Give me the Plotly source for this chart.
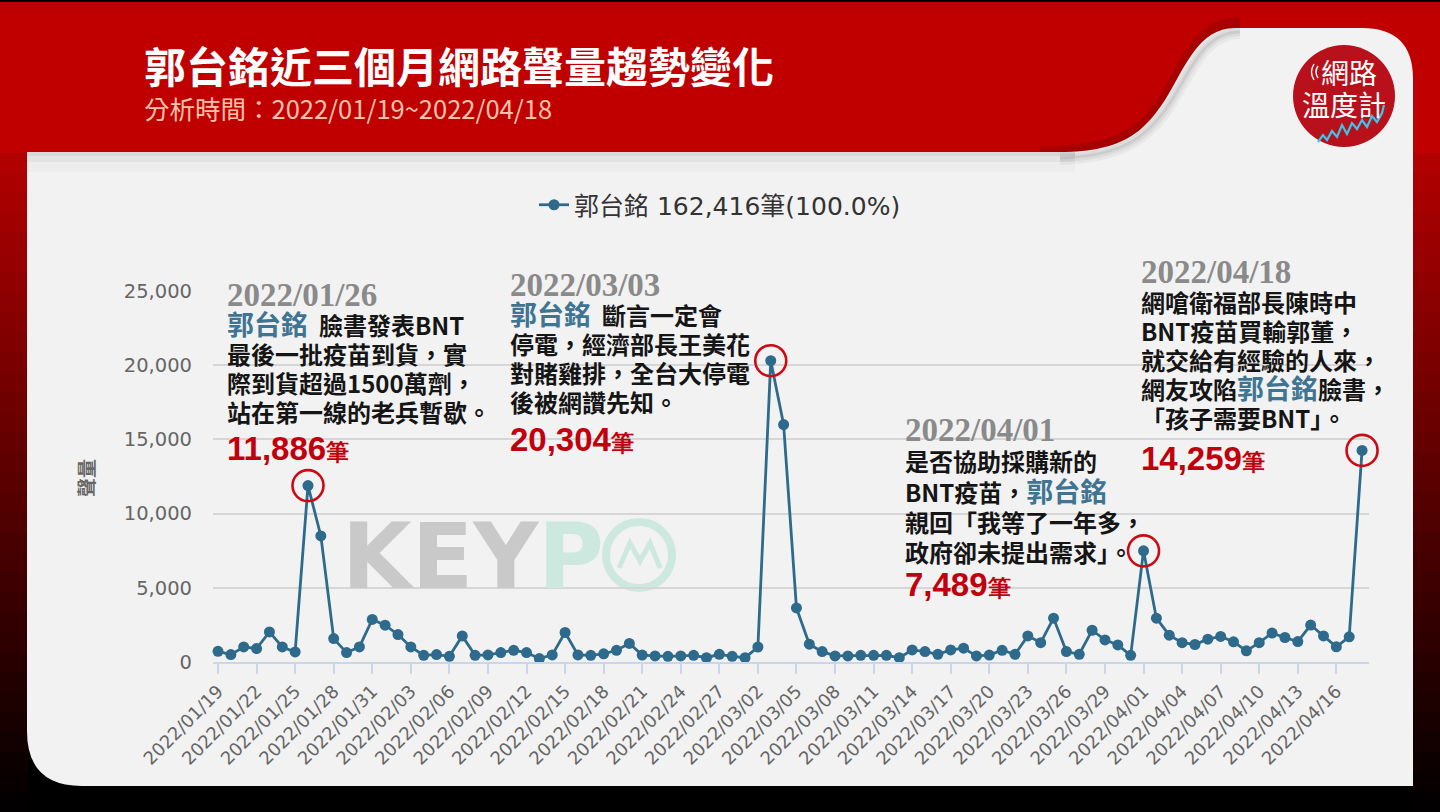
import plotly.graph_objects as go
import pandas as pd

# ---------------- data ----------------
dates = [d.strftime("%Y/%m/%d") for d in pd.date_range("2022-01-19", "2022-04-18", freq="D")]
volumes = [
    723, 500, 1014, 905, 2027, 1014, 676, 11886, 8494, 1577,
    635, 1014, 2865, 2480, 1851, 1014, 453, 500, 385, 1757,
    453, 480, 635, 790, 635, 230, 480, 1987, 480, 453,
    550, 790, 1250, 470, 410, 380, 410, 450, 290, 520,
    380, 290, 1010, 20304, 16000, 3640, 1200, 700, 410, 410,
    450, 450, 450, 290, 810, 700, 520, 810, 930, 410,
    470, 790, 520, 1760, 1300, 2950, 700, 520, 2140, 1490,
    1150, 450, 7489, 2950, 1810, 1300, 1180, 1540, 1720, 1360,
    750, 1300, 1950, 1650, 1380, 2490, 1760, 1020, 1700, 14259,
]
series_name = "郭台銘 162,416筆(100.0%)"
peak_dates = ["2022/01/26", "2022/03/03", "2022/04/01", "2022/04/18"]
peak_values = [volumes[dates.index(d)] for d in peak_dates]
tick_dates = dates[::3]
y_ticks = [0, 5000, 10000, 15000, 20000, 25000]

# ---------------- helpers ----------------
W, H = 1440, 812
CJK = "Noto Sans CJK TC"


def pp(s):
    out = []
    for tok in s.split():
        if "," in tok:
            x, y = map(float, tok.split(","))
            out.append(f"{x / W:.5f},{1 - y / H:.5f}")
        else:
            out.append(tok)
    return " ".join(out)


def rect(x0, y0, x1, y1, color, layer="below"):
    return dict(type="rect", xref="paper", yref="paper", x0=x0 / W, x1=x1 / W,
                y0=1 - y1 / H, y1=1 - y0 / H, fillcolor=color, line=dict(width=0), layer=layer)


def path(s, fill=None, line_color=None, line_width=0, layer="below"):
    d = dict(type="path", xref="paper", yref="paper", path=pp(s), layer=layer,
             line=dict(width=line_width, color=line_color or "rgba(0,0,0,0)"))
    if fill:
        d["fillcolor"] = fill
    return d


def txt(x, y, s, size, color, family=CJK, weight="normal", xanchor="left", angle=0):
    return dict(x=x / W, y=1 - y / H, xref="paper", yref="paper", text=s, showarrow=False,
                xanchor=xanchor, yanchor="middle", textangle=angle, borderpad=0, align="left",
                font=dict(size=size, color=color, family=family, weight=weight))


shapes = []
# background strips (red fading to black)
n = 33
for i in range(n):
    y0 = 152 + i * (812 - 152) / n
    y1 = 152 + (i + 1) * (812 - 152) / n
    f = 1 - (i + 0.5) / n
    c = f"rgb({int(180 * f)},0,0)"
    shapes.append(rect(0, y0, 28, y1 + 1, c))
    shapes.append(rect(1411, y0, 1440, y1 + 1, c))
# header band
shapes.append(rect(0, 2, 1440, 153, "#c00000"))
# page curl shadow on header
shapes.append(path("M 1040,154 C 1125,152 1145,130 1165,100 C 1185,68 1198,24 1240,24",
                   line_color="rgba(60,0,0,0.18)", line_width=14))
# panel
shapes.append(path("M 27,152 L 1060,152 C 1125,152 1145,130 1165,100 C 1185,68 1198,28 1235,28 "
                   "L 1362,28 Q 1413,28 1413,79 L 1413,786 L 82,786 Q 27,786 27,731 Z",
                   fill="#f2f2f2"))
# subtle shadows on panel
for k, a in [(4, 0.05), (10, 0.035), (20, 0.02)]:
    shapes.append(rect(27, 152, 1075, 152 + k, f"rgba(0,0,0,{a})"))
for w, a in [(14, 0.04), (8, 0.05), (3, 0.07)]:
    shapes.append(path("M 1060,158 C 1128,156 1150,133 1170,103 C 1190,72 1203,32 1240,32",
                       line_color=f"rgba(0,0,0,{a})", line_width=w))
# logo
shapes.append(dict(type="circle", xref="paper", yref="paper", x0=1293 / W, x1=1395 / W,
                   y0=1 - 147 / H, y1=1 - 45 / H, fillcolor="#b8111b", line=dict(width=0), layer="below"))
shapes.append(path("M 1318,142 L 1323,135 L 1327,140 L 1332,131 L 1337,137 L 1342,125 L 1347,134 "
                   "L 1352,123 L 1357,129 L 1362,120 L 1367,127 L 1372,116 L 1377,122 L 1382,113 L 1384,105",
                   line_color="#3cc4ea", line_width=2.2))
shapes.append(path("M 1318,66 Q 1314,72 1318,78", line_color="white", line_width=1.4))
shapes.append(path("M 1314,64 Q 1309,72 1314,80", line_color="white", line_width=1.4))
# watermark circle
shapes.append(dict(type="circle", xref="paper", yref="paper", x0=606 / W, x1=672 / W,
                   y0=1 - 588 / H, y1=1 - 522 / H, fillcolor="rgba(0,0,0,0)",
                   line=dict(width=8, color="#cde9df"), layer="below"))
shapes.append(path("M 619,568 L 630,543 L 640,561 L 650,543 L 660,568",
                   line_color="#cde9df", line_width=5))

# ---------------- annotations ----------------
BLUE = "#3f7493"
RED = "#c0000c"
DARK = "#151515"
GRAY = "#8a8a8a"


def sp(s, size, color=None, family=None):
    st = f"font-size:{size}px"
    if color:
        st += f";color:{color}"
    if family:
        st += f";font-family:'{family}'"
    return f'<span style="{st}">{s}</span>'


def kw(s):
    return sp(s, 27, BLUE)


def body(s):
    return sp(s, 24)


def num(v):
    return sp(f"{v:,}", 33, family="Liberation Sans") + sp("筆", 23)


anns = [
    txt(143, 64, "郭台銘近三個月網路聲量趨勢變化", 42, "white", weight="bold"),
    txt(143, 107, "分析時間：2022/01/19~2022/04/18", 25.5, "#ffc3ad"),
    txt(1349, 72, "網路", 28, "white", xanchor="center"),
    txt(1344, 104, "溫度計", 28, "white", xanchor="center"),
    txt(341, 556, "KEY", 90, "#c9c9c9", family="DejaVu Sans", weight="bold"),
    txt(537, 556, "P", 90, "#cde9df", family="DejaVu Sans", weight="bold"),
    txt(85, 478, "聲量", 19, "#666666", angle=-90, xanchor="center", weight="bold"),
]

# (left x, date y, last text line y, number y, date, text lines, value)
blocks = [
    (226, 295, 411, 448, peak_dates[0], [
        kw("郭台銘") + body("\u00a0\u00a0臉書發表BNT"),
        body("最後一批疫苗到貨，實"),
        body("際到貨超過1500萬劑，"),
        body("站在第一線的老兵暫歇。"),
    ], peak_values[0]),
    (509, 285, 401, 439, peak_dates[1], [
        kw("郭台銘") + body("\u00a0\u00a0斷言一定會"),
        body("停電，經濟部長王美花"),
        body("對賭雞排，全台大停電"),
        body("後被網讚先知。"),
    ], peak_values[1]),
    (904, 430, 551, 584, peak_dates[2], [
        body("是否協助採購新的"),
        body("BNT疫苗，") + kw("郭台銘"),
        body("親回「我等了一年多，"),
        body("政府卻未提出需求」。"),
    ], peak_values[2]),
    (1140, 272, 417, 459, peak_dates[3], [
        body("網嗆衛福部長陳時中"),
        body("BNT疫苗買輸郭董，"),
        body("就交給有經驗的人來，"),
        body("網友攻陷") + kw("郭台銘") + body("臉書，"),
        body("「孩子需要BNT」。"),
    ], peak_values[3]),
]
for x, yd, yl, yn, d, lines, v in blocks:
    spacing = (yl - yd) / len(lines)
    base = spacing / 1.3
    date_line = sp(d, 33, GRAY, "Liberation Serif")
    block = "<br>".join([date_line] + lines)
    anns.append(txt(x, (yd + yl) / 2, block, base, DARK, weight="bold"))
    anns.append(txt(x, yn, num(v), 33, RED, family="Liberation Sans", weight="bold"))

# ---------------- figure ----------------
fig = go.Figure()
fig.add_trace(go.Scatter(
    x=dates, y=volumes, mode="lines+markers", name=series_name,
    line=dict(color="#2e6a8b", width=2.8),
    marker=dict(size=11, color="#2e6a8b"), cliponaxis=False,
))
fig.add_trace(go.Scatter(
    x=peak_dates, y=peak_values, mode="markers", showlegend=False, hoverinfo="skip",
    marker=dict(symbol="circle-open", size=31, color="#cc0a14", line=dict(width=2.6)),
    cliponaxis=False,
))

fig.update_layout(
    width=W, height=H, autosize=False,
    margin=dict(l=0, r=0, t=0, b=0, pad=0, autoexpand=False),
    paper_bgcolor="#000000", plot_bgcolor="rgba(0,0,0,0)",
    shapes=shapes, annotations=anns,
    showlegend=True,
    legend=dict(x=0.5, xanchor="center", y=1 - 205 / H, yanchor="middle", orientation="h",
                font=dict(size=25, color="#333333", family="DejaVu Sans, " + CJK),
                bgcolor="rgba(0,0,0,0)"),
    xaxis=dict(domain=[213 / W, 1369 / W], type="category", categoryorder="array", categoryarray=dates,
               range=[-0.39, 89.54], tickmode="array", tickvals=tick_dates, ticktext=tick_dates,
               tickangle=-45, tickfont=dict(size=18, color="#666666", family="DejaVu Sans"),
               showline=True, linecolor="#ccd6eb", linewidth=1.5, ticks="outside", ticklen=10,
               tickcolor="#ccd6eb", tickwidth=1.5, showgrid=False, zeroline=False, fixedrange=True,
               automargin=False),
    yaxis=dict(domain=[1 - 662 / H, 1 - 291 / H], range=[0, 25000], tickmode="array", tickvals=y_ticks,
               tickformat=",", tickfont=dict(size=19.5, color="#666666", family="DejaVu Sans"),
               ticklabelstandoff=20, showgrid=True, gridcolor="#d6d6d6", gridwidth=1.5,
               zeroline=False, showline=False, fixedrange=True, automargin=False),
    hovermode=False,
)

fig.write_html("out.html", config={"displayModeBar": False},
               post_script="document.body.style.margin='0';document.body.style.overflow='hidden';")
